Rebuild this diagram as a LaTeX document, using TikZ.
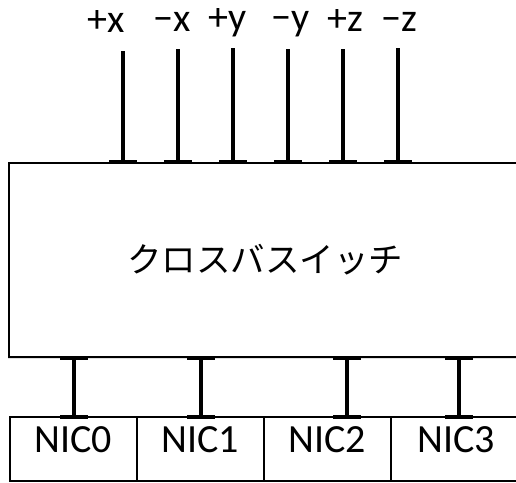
\documentclass[tikz,border=0pt]{standalone}
\usepackage{fontspec}
\setmainfont{Carlito}
\newfontfamily\jafont{Noto Sans CJK JP}
\usepackage{tikz}
\usetikzlibrary{positioning,shadows}

\begin{document}
\begin{tikzpicture}[
    x=1pt, y=-1pt,
    font=\fontsize{40}{44}\selectfont,
    switchbox/.style={draw, line width=2pt, fill=white, inner sep=0pt,
      minimum width=512pt, minimum height=194pt,
      drop shadow={shadow xshift=-1.5pt, shadow yshift=-2pt, opacity=0.25}},
    nicbox/.style={draw, line width=1.4pt, inner sep=0pt, outer sep=0pt,
      minimum width=127pt, minimum height=64pt, text height=25pt, text depth=19pt},
    dirlabel/.style={anchor=base, inner sep=0pt},
    link/.style={line width=4.5pt},
    foot/.style={line width=3.5pt},
  ]
    \useasboundingbox (0,0) rectangle (516,482);

    % crossbar switch
    \node[switchbox] (sw) at (265,260)
      {\jafont\fontsize{34.5}{40}\selectfont クロスバスイッチ};

    % network ports
    \node[dirlabel] (px) at (106,32) {+x};
    \node[dirlabel] (mx) at (172,31) {−x};
    \node[dirlabel] (py) at (228,30) {+y};
    \node[dirlabel] (my) at (291,30) {−y};
    \node[dirlabel] (pz) at (345,31) {+z};
    \node[dirlabel] (mz) at (399,31) {−z};
    \coordinate (tpx) at (123,51);
    \coordinate (tmx) at (178,49);
    \coordinate (tpy) at (233,48);
    \coordinate (tmy) at (288,49);
    \coordinate (tpz) at (343,49);
    \coordinate (tmz) at (398,48);
    \foreach \p in {tpx,tmx,tpy,tmy,tpz,tmz} {
      \draw[link] (\p) -- (\p |- sw.north);
      \draw[foot] ([xshift=-14pt]\p |- sw.north) -- ([xshift=14pt]\p |- sw.north);
    }

    % NICs
    \node[nicbox] (nic0) at (73.5,449) {NIC0};
    \node[nicbox, right=0pt of nic0] (nic1) {NIC1};
    \node[nicbox, right=0pt of nic1] (nic2) {NIC2};
    \node[nicbox, right=0pt of nic2, minimum width=130pt] (nic3) {NIC3};
    \coordinate (b0) at ([xshift=0.5pt]nic0.north);
    \coordinate (b1) at ([xshift=0.5pt]nic1.north);
    \coordinate (b2) at ([xshift=19.5pt]nic2.north);
    \coordinate (b3) at ([xshift=3pt]nic3.north);
    \foreach \p in {b0,b1,b2,b3} {
      \draw[link] (\p) -- (\p |- sw.south);
      \draw[foot] ([xshift=-14pt]\p |- sw.south) -- ([xshift=14pt]\p |- sw.south);
      \draw[foot] ([xshift=-14pt]\p) -- ([xshift=14pt]\p);
    }
  \end{tikzpicture}
\end{document}
